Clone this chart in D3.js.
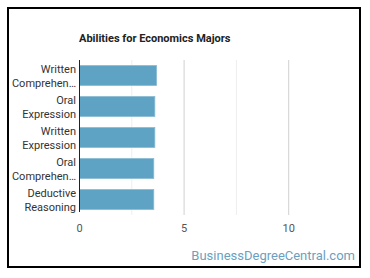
<!DOCTYPE html>
<html>
<head>
<meta charset="utf-8">
<script src="https://cdn.jsdelivr.net/npm/d3@7"></script>
<style>
  body { margin: 0; background: #fff; }
  svg { font-family: Roboto, sans-serif; }
</style>
</head>
<body>
<svg></svg>
<script>
// chart data
let categories = [['Written', 'Comprehen…'], ['Oral', 'Expression'], ['Written', 'Expression'], ['Oral', 'Comprehen…'], ['Deductive', 'Reasoning']];
let values = [3.68, 3.6, 3.6, 3.55, 3.55];
let tickValues = [0, 5, 10];
let minorTicks = [2.5, 7.5];

let svgWidth = 370, svgHeight = 278;
let plotLeft = 79.5, plotRight = 341, plotTop = 60, plotBottom = 215;

let svg = d3.select('svg')
    .attr('width', svgWidth)
    .attr('height', svgHeight);

// frame
svg.append('rect')
    .attr('x', 8).attr('y', 8)
    .attr('width', 352).attr('height', 259)
    .attr('fill', 'none')
    .attr('stroke', '#000')
    .attr('stroke-width', 2);

svg.append('text')
    .attr('x', 79).attr('y', 41.5)
    .attr('font-size', 11)
    .attr('font-weight', 'bold')
    .attr('fill', '#222')
    .text('Abilities for Economics Majors');

let x = d3.scaleLinear().domain([0, 12.5]).range([plotLeft, plotRight]);
let y = d3.scaleBand().domain(d3.range(values.length)).range([plotTop, plotBottom]).paddingInner(0.36).paddingOuter(0.18);

// grid
svg.selectAll('.minor')
    .data(minorTicks)
    .enter()
    .append('line')
    .attr('x1', d => x(d)).attr('x2', d => x(d))
    .attr('y1', plotTop).attr('y2', plotBottom)
    .attr('stroke', '#eeeeee');

svg.selectAll('.major')
    .data(tickValues.slice(1))
    .enter()
    .append('line')
    .attr('x1', d => x(d)).attr('x2', d => x(d))
    .attr('y1', plotTop).attr('y2', plotBottom)
    .attr('stroke', '#d0d0d0');

// bars
svg.selectAll('.bar')
    .data(values)
    .enter()
    .append('rect')
    .attr('x', x(0))
    .attr('y', (d, i) => y(i))
    .attr('width', d => x(d) - x(0))
    .attr('height', y.bandwidth())
    .attr('fill', '#5ea3c3')
    .attr('stroke', '#86bad3')
    .attr('stroke-width', 0.8);

// y axis line
svg.append('line')
    .attr('x1', x(0)).attr('x2', x(0))
    .attr('y1', plotTop).attr('y2', plotBottom - 3)
    .attr('stroke', '#222');

// category labels
let labels = svg.selectAll('.lab')
    .data(categories)
    .enter()
    .append('text')
    .attr('text-anchor', 'end')
    .attr('font-size', 11)
    .attr('fill', '#333')
    .attr('transform', (d, i) => 'translate(76,' + (y(i) + y.bandwidth() / 2) + ')');

labels.selectAll('tspan')
    .data(d => d)
    .enter()
    .append('tspan')
    .attr('x', 0)
    .attr('y', (d, i) => i === 0 ? -2.5 : 11)
    .text(d => d);

// x tick labels
svg.selectAll('.tick')
    .data(tickValues)
    .enter()
    .append('text')
    .attr('x', d => x(d))
    .attr('y', 232)
    .attr('text-anchor', 'middle')
    .attr('font-size', 11)
    .attr('fill', '#555')
    .text(d => d);

svg.append('text')
    .attr('x', 355).attr('y', 260)
    .attr('text-anchor', 'end')
    .attr('font-size', 13)
    .attr('fill', '#6b9fc0')
    .text('BusinessDegreeCentral.com');
</script>
</body>
</html>
